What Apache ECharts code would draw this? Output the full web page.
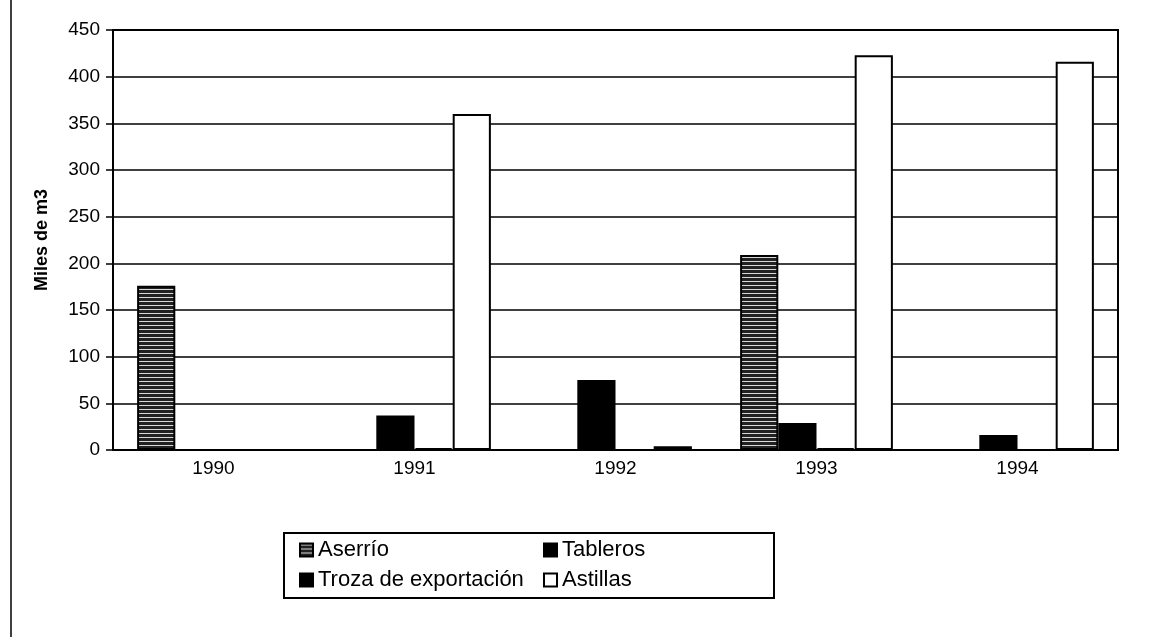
<!DOCTYPE html>
<html>
<head>
<meta charset="utf-8">
<script src="https://cdn.jsdelivr.net/npm/echarts@6/dist/echarts.min.js"></script>
<style>
html,body{margin:0;padding:0;background:#fff;}
#chart{width:1153px;height:637px;}
</style>
</head>
<body>
<div id="chart"></div>
<script>
// datos (miles de m3)
var years = ['1990', '1991', '1992', '1993', '1994'];
var aserrio = [176, 0, 0, 209, 0];
var tableros = [0, 37, 75, 29, 16];
var troza = [0, 2, 0, 2, 0];
var astillas = [0, 360, 4, 423, 416];
var yTicks = [0, 50, 100, 150, 200, 250, 300, 350, 400, 450];

// trama rayada para Aserrio
var pat = document.createElement('canvas');
pat.width = 6; pat.height = 4;
var ctx = pat.getContext('2d');
ctx.fillStyle = '#222';
ctx.fillRect(0, 0, 6, 4);
ctx.fillStyle = '#d8d8d8';
ctx.fillRect(0, 1, 6, 1);

var font = 'Liberation Sans, Arial, sans-serif';
var chart = echarts.init(document.getElementById('chart'));

function bar(name, data, fill) {
  return {
    name: name,
    type: 'bar',
    data: data,
    barGap: 0,
    barCategoryGap: '24%',
    itemStyle: {color: fill, borderColor: '#000', borderWidth: 2}
  };
}

function legendCol(items, left) {
  return {
    data: items,
    orient: 'vertical',
    left: left, top: 539,
    padding: 0,
    itemWidth: 13, itemHeight: 13, itemGap: 8,
    icon: 'rect',
    textStyle: {fontFamily: font, fontSize: 22, color: '#000'}
  };
}

chart.setOption({
  animation: false,
  grid: {left: 113, right: 35, top: 30, bottom: 187, show: true, borderColor: '#000', borderWidth: 2},
  legend: [
    legendCol(['Aserrío', 'Troza de exportación'], 299),
    legendCol(['Tableros', 'Astillas'], 543)
  ],
  xAxis: {
    type: 'category',
    data: years,
    axisLine: {lineStyle: {color: '#000', width: 2}},
    axisTick: {length: 5, lineStyle: {color: '#000', width: 1.5}},
    axisLabel: {fontFamily: font, fontSize: 19, color: '#000', margin: 9}
  },
  yAxis: {
    type: 'value',
    min: 0, max: 450, interval: 50,
    name: 'Miles de m3',
    nameLocation: 'middle',
    nameGap: 62,
    nameTextStyle: {fontFamily: font, fontSize: 18, fontWeight: 'bold', color: '#000'},
    axisLine: {show: true, lineStyle: {color: '#000', width: 2}},
    axisTick: {show: true, length: 7, lineStyle: {color: '#000', width: 1.5}},
    axisLabel: {
      fontFamily: font, fontSize: 19, color: '#000', margin: 13,
      formatter: function (v) { return yTicks.indexOf(v) >= 0 ? String(v) : ''; }
    },
    splitLine: {lineStyle: {color: '#000', width: 1.5}}
  },
  series: [
    bar('Aserrío', aserrio, {image: pat, repeat: 'repeat'}),
    bar('Tableros', tableros, '#000'),
    bar('Troza de exportación', troza, '#000'),
    bar('Astillas', astillas, '#fff')
  ],
  graphic: [
    {type: 'line', shape: {x1: 11, y1: 0, x2: 11, y2: 637}, style: {stroke: '#000', lineWidth: 1.5}},
    {type: 'rect', shape: {x: 284, y: 533, width: 490, height: 65}, style: {fill: null, stroke: '#000', lineWidth: 2}, z: -1}
  ]
});
</script>
</body>
</html>
